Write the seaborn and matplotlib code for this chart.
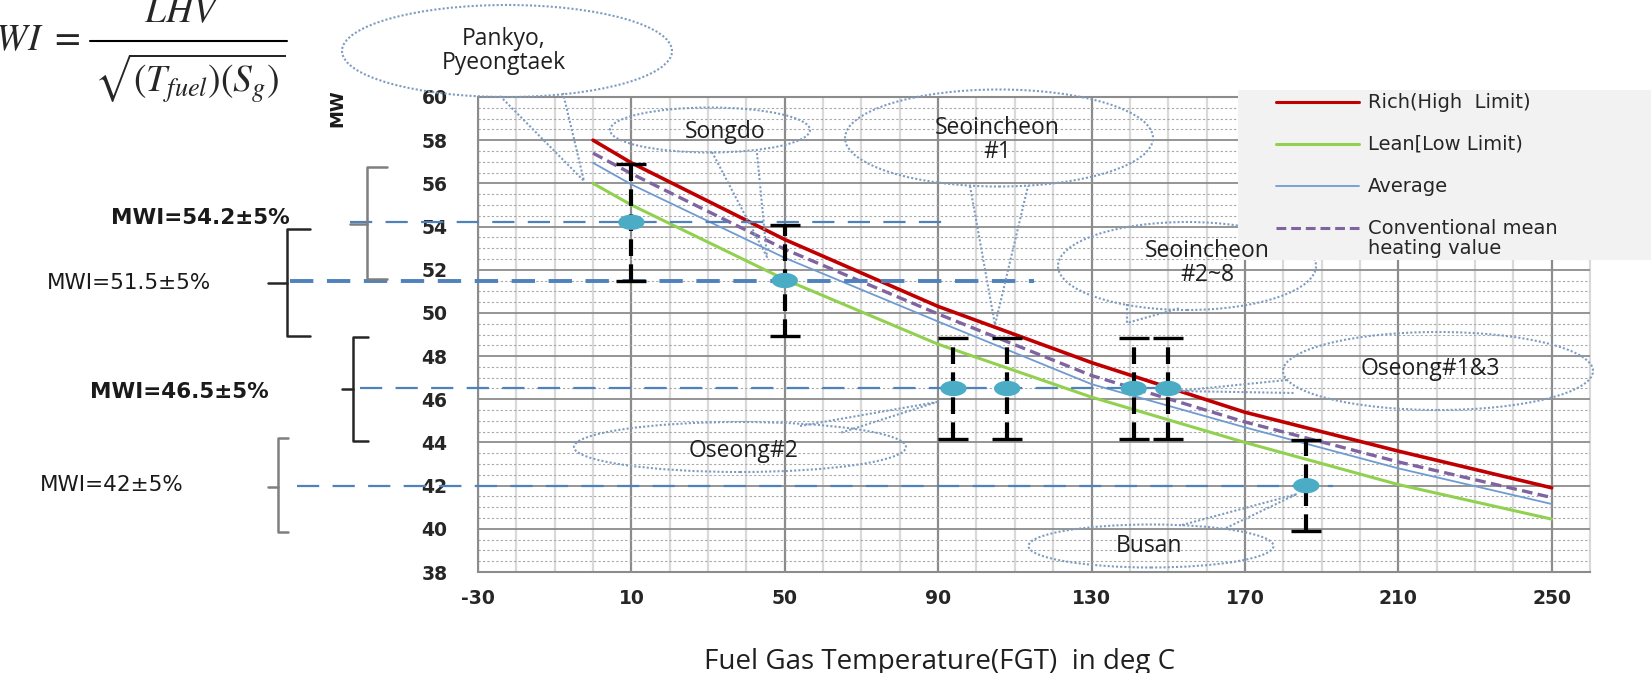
import numpy as np
import pandas as pd
import matplotlib
matplotlib.use('Agg')
import matplotlib.pyplot as plt
import seaborn as sns
from matplotlib.patches import Ellipse, Rectangle
from matplotlib.lines import Line2D
from matplotlib.path import Path
from matplotlib.ticker import FixedLocator, MultipleLocator

# curves (fuel gas temperature -> MWI)
fgt = [0, 10, 50, 90, 130, 170, 210, 250]
rich = [58.0, 56.95, 53.4, 50.3, 47.7, 45.4, 43.6, 41.9]
conventional = [57.4, 56.45, 52.95, 49.95, 47.1, 44.95, 43.1, 41.45]
average = [56.95, 55.95, 52.55, 49.6, 46.7, 44.7, 42.8, 41.15]
lean = [56.0, 55.0, 51.55, 48.55, 46.1, 44.0, 42.05, 40.45]

# plant operating points
site_fgt = [10, 50, 94, 108, 141, 150, 186]
site_mwi = [54.2, 51.5, 46.5, 46.5, 46.5, 46.5, 42.0]
tolerance = 0.05

mwi_levels = [54.2, 51.5, 46.5, 42.0]
mwi_labels = ['MWI=54.2±5%', 'MWI=51.5±5%', 'MWI=46.5±5%', 'MWI=42±5%']
mwi_line_end = [93, 115, 150, 193]

x_ticks = list(range(-30, 251, 40))
y_ticks = list(range(38, 61, 2))

W, H = 1651, 673


def fx(px):
    return px / W


def fy(py):
    return 1 - py / H


sns.set_style('white')
plt.rcParams['font.family'] = ['DejaVu Sans']

fig = plt.figure(figsize=(W / 100, H / 100), dpi=100)
ax = fig.add_axes([fx(478), fy(572), (1590 - 478) / W, (572 - 97) / H])


def px_to_fgt(px):
    return -30 + (px - 478) * 290 / (1590 - 478)


# curves
df = pd.DataFrame({'FGT': fgt, 'rich': rich, 'conv': conventional,
                   'avg': average, 'lean': lean})
curve_style = {
    'rich': dict(color='#c00000', lw=2.6),
    'lean': dict(color='#92d050', lw=2.2),
    'avg': dict(color='#6f9bd1', lw=1.3),
    'conv': dict(color='#8064a2', lw=2.4, dashes=(3.2, 1.6)),
}
for col, st in curve_style.items():
    dashes = st.pop('dashes', None)
    sns.lineplot(data=df, x='FGT', y=col, ax=ax, legend=False, zorder=3, **st)
    if dashes:
        ax.lines[-1].set_linestyle((0, dashes))

# MWI guide lines (start left of the axes)
guide_start_px = [350, 290, 360, 297]
for lvl, x1, x0px in zip(mwi_levels, mwi_line_end, guide_start_px):
    thick = lvl == 51.5
    ax.plot([px_to_fgt(x0px), x1], [lvl, lvl], color='#4f81bd',
            lw=2.8 if thick else 1.6,
            linestyle=(0, (6, 3.5)) if thick else (0, (10, 6)),
            clip_on=False, zorder=4)

# +-5% bars and markers
eb = ax.errorbar(site_fgt, site_mwi, yerr=[v * tolerance for v in site_mwi],
                 fmt='none', ecolor='black', elinewidth=3.0, capsize=11,
                 capthick=2.4, zorder=5)
eb.lines[2][0].set_linestyle((0, (4.0, 2.0)))

t = np.linspace(0, 2 * np.pi, 60)
ell_marker = Path(np.column_stack([np.cos(t), 0.58 * np.sin(t)]))
sns.scatterplot(x=site_fgt, y=site_mwi, ax=ax, marker=ell_marker, s=360,
                color='#4bacc6', edgecolor='none', zorder=6, legend=False)

# axes, ticks, grid
ax.set_xlim(-30, 260)
ax.set_ylim(38, 60)
ax.xaxis.set_major_locator(FixedLocator(x_ticks))
ax.xaxis.set_minor_locator(MultipleLocator(10))
ax.yaxis.set_major_locator(FixedLocator(y_ticks))
ax.yaxis.set_minor_locator(MultipleLocator(0.5))
ax.set_xticks(x_ticks, labels=[str(v) for v in x_ticks], fontweight='bold')
ax.set_yticks(y_ticks, labels=[str(v) for v in y_ticks], fontweight='bold')
ax.set_xlabel('')
ax.set_ylabel('')
ax.set_axisbelow(True)
ax.grid(which='minor', axis='x', color='#d9d9d9', lw=1.6)
ax.grid(which='major', axis='x', color='#8c8c8c', lw=1.6)
ax.grid(which='minor', axis='y', color='#a6a6a6', lw=0.8, linestyle=(0, (2, 2)))
ax.grid(which='major', axis='y', color='#8c8c8c', lw=1.3)
ax.tick_params(which='major', direction='out', length=8, width=1.5,
               color='#8c8c8c', labelsize=13.5, labelcolor='#262626')
ax.tick_params(axis='x', which='major', pad=4)
ax.tick_params(axis='y', which='major', pad=14)
ax.tick_params(which='minor', direction='in', length=7, width=1.2, color='#8c8c8c')
for side in ['left', 'bottom', 'top']:
    ax.spines[side].set_color('#8c8c8c')
    ax.spines[side].set_linewidth(1.5)
ax.spines['right'].set_color('#d9d9d9')

# callouts: text, text centre, ellipse centre, width, height, tail (px)
callouts = [
    ('Pankyo,\nPyeongtaek', (504, 51), (507, 51), 330, 92, [(500, 96), (584, 181), (563, 93)]),
    ('Songdo', (725, 132), (710, 130), 200, 45, [(712, 152), (767, 257), (757, 153)]),
    ('Seoincheon\n#1', (997, 140), (999, 138), 308, 97, [(970, 186), (995, 325), (1028, 186)]),
    ('Seoincheon\n#2~8', (1207, 263), (1187, 266), 258, 88, [(1127, 304), (1127, 323), (1180, 308)]),
    ('Oseong#1&3', (1430, 369), (1438, 371), 310, 78, [(1287, 380), (1177, 391), (1295, 393)]),
    ('Oseong#2', (744, 451), (740, 447), 332, 50, [(800, 426), (937, 402), (840, 433)]),
    ('Busan', (1149, 546), (1151, 546), 245, 43, [(1182, 525), (1297, 494), (1226, 528)]),
]
cl_col = '#7f9cc0'
for txt, tpos, cen, w, h, tail in callouts:
    fig.add_artist(Ellipse((fx(cen[0]), fy(cen[1])), w / W, h / H, transform=fig.transFigure,
                           fill=False, edgecolor=cl_col, lw=1.5, linestyle=(0, (1, 1)), zorder=7))
    fig.add_artist(Line2D([fx(p[0]) for p in tail], [fy(p[1]) for p in tail],
                          transform=fig.transFigure, color=cl_col, lw=1.5,
                          linestyle=(0, (1, 1)), zorder=7))
    fig.text(fx(tpos[0]), fy(tpos[1]), txt, ha='center', va='center', fontsize=16.5,
             family='Open Sans', color='#1f1f1f', linespacing=1.0, zorder=10)

# brackets on the left: x, top, bottom, middle, hook, nub, colour
brackets = [
    (367, 167, 279, 224, 20, 17, '#7f7f7f'),
    (287, 229, 336, 283, 23, 19, '#262626'),
    (353, 337, 441, 389, 15, 11, '#262626'),
    (278, 438, 532, 487, 10, 10, '#7f7f7f'),
]
for x, top, bot, mid, hook, nub, c in brackets:
    fig.add_artist(Line2D([fx(x + hook), fx(x), fx(x), fx(x + hook)],
                          [fy(top), fy(top), fy(bot), fy(bot)], color=c, lw=1.8))
    fig.add_artist(Line2D([fx(x - nub), fx(x)], [fy(mid), fy(mid)], color=c, lw=1.8))

label_pos = [(200, 218), (129, 283), (179, 392), (112, 485)]
label_bold = [True, False, True, False]
for lab, (px, py), b in zip(mwi_labels, label_pos, label_bold):
    fig.text(fx(px), fy(py), lab, ha='center', va='center', fontsize=15.5,
             fontweight='bold' if b else 'normal', color='#1a1a1a')

# legend panel
fig.add_artist(Rectangle((fx(1238), fy(260)), (W - 1238) / W, (260 - 90) / H,
                         transform=fig.transFigure, facecolor='#f2f2f2',
                         edgecolor='none', zorder=8))
legend_rows = [
    ('Rich(High  Limit)', dict(color='#c00000', lw=2.2)),
    ('Lean[Low Limit)', dict(color='#92d050', lw=2.2)),
    ('Average', dict(color='#6f9bd1', lw=1.3)),
    ('Conventional mean', dict(color='#8064a2', lw=2.2, linestyle=(0, (3.2, 1.6)))),
]
for i, (lab, st) in enumerate(legend_rows):
    y = 102 + 42 * i
    fig.add_artist(Line2D([fx(1276), fx(1359)], [fy(y), fy(y)],
                          transform=fig.transFigure, zorder=9, **st))
    fig.text(fx(1368), fy(y), lab, ha='left', va='center', fontsize=14,
             color='#262626', zorder=9)
fig.text(fx(1368), fy(249), 'heating value', ha='left', va='center',
         fontsize=14, color='#262626', zorder=9)

# formula
fig.text(fx(80), fy(50), r'$MWI\ =$', ha='right', va='baseline', fontsize=27,
         math_fontfamily='stix')
fig.text(fx(182), fy(22), r'$LHV$', ha='center', va='baseline', fontsize=27,
         math_fontfamily='stix')
fig.add_artist(Line2D([fx(90), fx(287)], [fy(41), fy(41)], color='black', lw=1.5))
fig.text(fx(190), fy(93), r'$\sqrt{(T_{fuel})(S_g)}$', ha='center', va='baseline',
         fontsize=27, math_fontfamily='stix')

fig.text(fx(337), fy(108), 'MW', rotation=90, ha='center', va='center',
         fontsize=13, fontweight='bold', color='#1a1a1a')
fig.text(fx(940), fy(669), 'Fuel Gas Temperature(FGT)  in deg C', ha='center',
         va='baseline', fontsize=20, family='Open Sans', color='#1f1f1f')

fig.savefig('out.png', dpi=100)
